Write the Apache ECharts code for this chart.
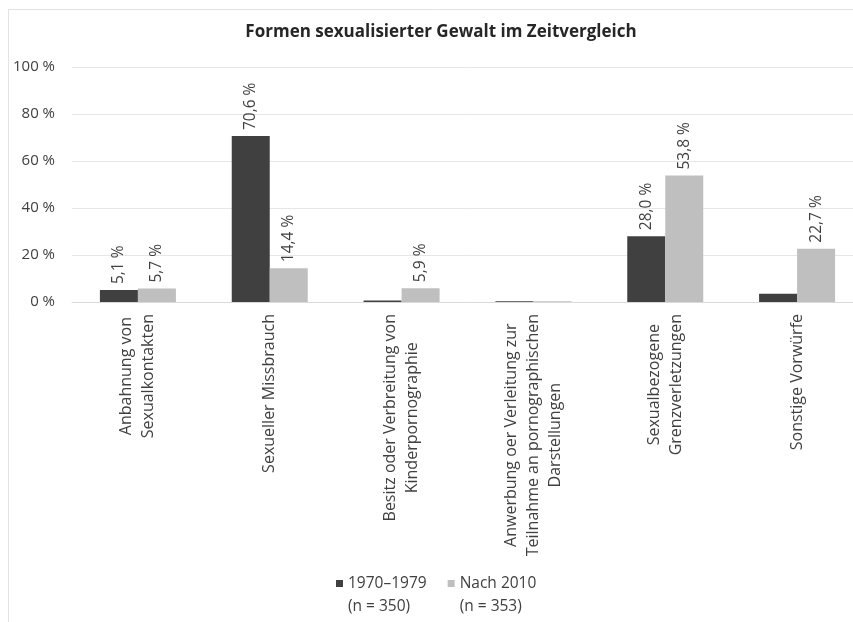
<!DOCTYPE html>
<html lang="de">
<head>
<meta charset="UTF-8">
<title>Formen sexualisierter Gewalt im Zeitvergleich</title>
<script src="https://cdn.jsdelivr.net/npm/echarts@6/dist/echarts.min.js"></script>
<style>
  html, body { margin: 0; padding: 0; background: #fff; overflow: hidden; }
  /* etwas breiter als das Fenster: das Original ist rechts abgeschnitten */
  #chart { width: 870px; height: 622px; }
</style>
</head>
<body>
<div id="chart"></div>
<script>
// Kategorien (Zeilenumbrueche wie im Original)
const categories = [
    'Anbahnung von\nSexualkontakten',
    'Sexueller Missbrauch',
    'Besitz oder Verbreitung von\nKinderpornographie',
    'Anwerbung oer Verleitung zur\nTeilnahme an pornographischen\nDarstellungen',
    'Sexualbezogene\nGrenzverletzungen',
    'Sonstige Vorwürfe'
];
const seriesNames = ['1970–1979\n(n = 350)', 'Nach 2010\n(n = 353)'];
const values1970 = [5.1, 70.6, 0.6, 0.3, 28.0, 3.5];
const values2010 = [5.7, 14.4, 5.9, 0.3, 53.8, 22.7];
// welche Werte beschriftet sind
const showLabel1970 = [true, true, false, false, true, false];
const showLabel2010 = [true, true, true, false, true, true];
const yTicks = [0, 20, 40, 60, 80, 100];

const font = '"Open Sans", sans-serif';

function fmt(v) {
    return v.toFixed(1).replace('.', ',') + ' %';
}

function buildData(values, flags) {
    return values.map(function (v, i) {
        return { value: v, label: { show: flags[i] } };
    });
}

const labelStyle = {
    position: 'top',
    rotate: 90,
    align: 'left',
    verticalAlign: 'middle',
    distance: 6,
    fontFamily: font,
    fontSize: 15.5,
    color: '#404040',
    formatter: function (p) { return fmt(p.value); }
};

let myChart = echarts.init(document.getElementById('chart'));
let option = {
    backgroundColor: '#fff',
    animation: false,
    title: {
        text: 'Formen sexualisierter Gewalt im Zeitvergleich',
        left: 436,
        textAlign: 'center',
        top: 19,
        textStyle: { fontFamily: font, fontSize: 17, fontWeight: 'bold', color: '#262626' }
    },
    graphic: [{
        type: 'rect',
        shape: { x: 8.5, y: 9.5, width: 870, height: 640 },
        style: { fill: null, stroke: '#e2e2e2', lineWidth: 1 },
        silent: true
    }],
    legend: {
        data: seriesNames,
        left: 336,
        top: 553,
        padding: 0,
        itemWidth: 7,
        itemHeight: 7,
        itemGap: 21,
        icon: 'rect',
        // leere erste Zeile, damit das Symbol auf Hoehe der ersten Textzeile steht
        formatter: function (name) {
            return '{s| }\n' + name.split('\n').map(function (l) { return '{a|' + l + '}'; }).join('\n');
        },
        textStyle: {
            fontFamily: font,
            fontSize: 15.5,
            color: '#404040',
            rich: {
                s: { fontSize: 15, lineHeight: 23 },
                a: { fontFamily: font, fontSize: 15.5, lineHeight: 23, color: '#404040' }
            }
        }
    },
    grid: { left: 72, top: 67, width: 791, height: 235 },
    xAxis: {
        type: 'category',
        data: categories,
        axisLine: { lineStyle: { color: '#d9d9d9' } },
        axisTick: { show: false },
        axisLabel: {
            interval: 0,
            rotate: 90,
            margin: 12,
            color: '#404040',
            fontFamily: font,
            fontSize: 16,
            formatter: function (v) {
                return v.split('\n').map(function (l) { return '{c|' + l + '}'; }).join('\n');
            },
            rich: {
                c: { align: 'center', fontFamily: font, fontSize: 16, lineHeight: 22, color: '#404040' }
            }
        }
    },
    yAxis: {
        type: 'value',
        min: yTicks[0],
        max: yTicks[yTicks.length - 1],
        interval: 20,
        axisLine: { show: false },
        axisTick: { show: false },
        splitLine: { lineStyle: { color: '#e6e6e6' } },
        axisLabel: {
            margin: 17,
            color: '#404040',
            fontFamily: font,
            fontSize: 15,
            formatter: '{value} %'
        }
    },
    series: [
        {
            name: seriesNames[0],
            type: 'bar',
            barWidth: 38,
            barGap: '0%',
            itemStyle: { color: '#404040' },
            label: labelStyle,
            data: buildData(values1970, showLabel1970)
        },
        {
            name: seriesNames[1],
            type: 'bar',
            barWidth: 38,
            barGap: '0%',
            itemStyle: { color: '#bfbfbf' },
            label: labelStyle,
            data: buildData(values2010, showLabel2010)
        }
    ]
};
myChart.setOption(option);
</script>
</body>
</html>
